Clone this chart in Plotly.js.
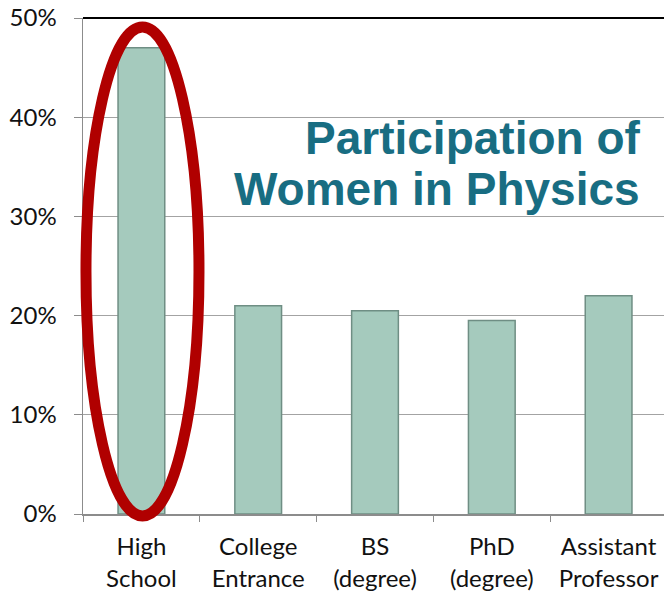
<!DOCTYPE html>
<html>
<head>
<meta charset="utf-8">
<script src="https://cdn.plot.ly/plotly-3.0.1.min.js"></script>
<style>
html,body{margin:0;padding:0;overflow:hidden;background:#fff;}
#chart{width:668px;height:592px;}
</style>
</head>
<body>
<div id="chart"></div>
<script>
var categories = ["High<br>School", "College<br>Entrance", "BS<br>(degree)", "PhD<br>(degree)", "Assistant<br>Professor"];
var womenShare = [0.47, 0.21, 0.205, 0.195, 0.22];
var yTickVals = [0, 0.1, 0.2, 0.3, 0.4, 0.5];
var titleLines = ["Participation of", "Women in Physics"];

var trace = {
  type: "bar",
  x: categories,
  y: womenShare,
  marker: {color: "#a5cabd", line: {color: "#6f8e84", width: 1.5}},
  hoverinfo: "skip"
};

var labelFont = {family: "Lato, 'Open Sans', sans-serif", size: 24, color: "#111"};
var titleFont = {family: "'Liberation Sans', Arial, sans-serif", size: 46, color: "#186d82", weight: 700};

var layout = {
  width: 668, height: 592,
  margin: {l: 83, r: 1, t: 18, b: 78},
  paper_bgcolor: "#fff", plot_bgcolor: "#fff",
  bargap: 0.6,
  showlegend: false,
  xaxis: {
    type: "category",
    showline: true, linecolor: "#8c8c8c", linewidth: 1.5,
    ticks: "outside", tickson: "boundaries", ticklen: 6, tickcolor: "#8c8c8c",
    tickfont: labelFont, showgrid: false, fixedrange: true,
    ticklabelstandoff: 11
  },
  yaxis: {
    range: [0, 0.5],
    tickvals: yTickVals, tickformat: ".0%",
    showline: true, linecolor: "#8c8c8c", linewidth: 1.5,
    ticks: "outside", ticklen: 8, tickcolor: "#8c8c8c",
    showgrid: true, gridcolor: "#a3a3a3", gridwidth: 1,
    zeroline: false,
    tickfont: labelFont, ticklabelstandoff: 12, fixedrange: true
  },
  shapes: [
    {type: "line", xref: "paper", yref: "paper", x0: 0, x1: 1, y0: 1, y1: 1,
     line: {color: "#000", width: 2}, layer: "above"},
    {type: "circle", xref: "paper", yref: "paper",
     x0: 0.0051, x1: 0.1986, y0: -0.004, y1: 0.982,
     line: {color: "#b00000", width: 11}, layer: "above"}
  ],
  annotations: [
    {xref: "paper", yref: "paper", x: 0.957, y: 0.759, xanchor: "right", yanchor: "middle",
     text: "<b>" + titleLines[0] + "</b>", showarrow: false, font: titleFont},
    {xref: "paper", yref: "paper", x: 0.957, y: 0.655, xanchor: "right", yanchor: "middle",
     text: "<b>" + titleLines[1] + "</b>", showarrow: false, font: titleFont}
  ]
};

Plotly.newPlot("chart", [trace], layout, {displayModeBar: false, staticPlot: true});
</script>
</body>
</html>
